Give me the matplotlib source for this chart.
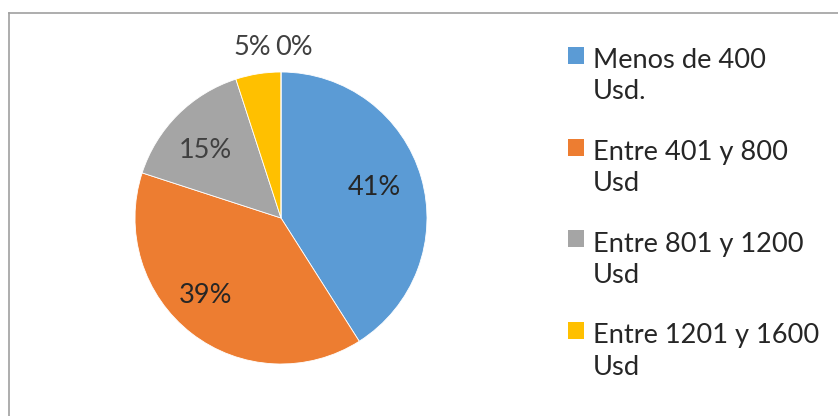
import matplotlib.pyplot as plt
from matplotlib.patches import Patch, Rectangle
from matplotlib.lines import Line2D
from matplotlib.legend_handler import HandlerPatch

# rangos de ingreso mensual
categorias = ["Menos de 400\nUsd.", "Entre 401 y 800\nUsd", "Entre 801 y 1200\nUsd",
              "Entre 1201 y 1600\nUsd", "Más de 1600\nUsd"]
porcentajes = [41, 39, 15, 5, 0]
colores = ["#5B9BD5", "#ED7D31", "#A5A5A5", "#FFC000", "#4472C4"]

plt.rcParams["font.family"] = ["Lato", "DejaVu Sans"]

fig = plt.figure(figsize=(8.38, 4.16), dpi=100)
W, H = 838, 416

# marco del grafico
fig.add_artist(Line2D([9 / W, 9 / W], [0, 1 - 13 / H], color="#a0a0a0", lw=1.2))
fig.add_artist(Line2D([9 / W, 1], [1 - 13 / H, 1 - 13 / H], color="#a0a0a0", lw=1.2))

cx, cy, r = 281, 218, 146
ax = fig.add_axes([(cx - r) / W, (H - cy - r) / H, 2 * r / W, 2 * r / H])
wedges, textos, pct = ax.pie(porcentajes, colors=colores, startangle=90, counterclock=False,
                             autopct="%d%%", pctdistance=0.70,
                             wedgeprops=dict(edgecolor="white", linewidth=0.6),
                             textprops=dict(fontsize=19.5, color="#262626"))
ax.set_xlim(-1, 1)
ax.set_ylim(-1, 1)
ax.set_aspect("equal")

# etiquetas de las porciones pequeñas fuera del circulo
pct[3].set_position((-0.20, 1.17))
pct[4].set_position((0.09, 1.17))
for t in pct[2:]:
    t.set_color("#404040")
pct[2].set_position((-0.52, 0.46))
pct[1].set_position((-0.52, -0.53))
pct[0].set_position((0.64, 0.21))


# cuadro de color alineado con la primera linea del texto
def cuadro(legend, orig_handle, xdescent, ydescent, width, height, fontsize):
    return Rectangle((-xdescent, -ydescent + 0.78 * fontsize), width, height)


handles = [Patch(facecolor=c) for c in colores[:4]]
leg = fig.legend(handles, categorias[:4], loc="upper left", bbox_to_anchor=(568 / W, 1 - 48 / H),
                 frameon=False, fontsize=19.6, handlelength=0.59, handleheight=0.59,
                 handletextpad=0.33, labelspacing=1.3, borderpad=0, borderaxespad=0,
                 handler_map={Patch: HandlerPatch(patch_func=cuadro)})
for t in leg.get_texts():
    t.set_color("#262626")
    t.set_linespacing(1.32)

fig.savefig("out.png", dpi=100)
